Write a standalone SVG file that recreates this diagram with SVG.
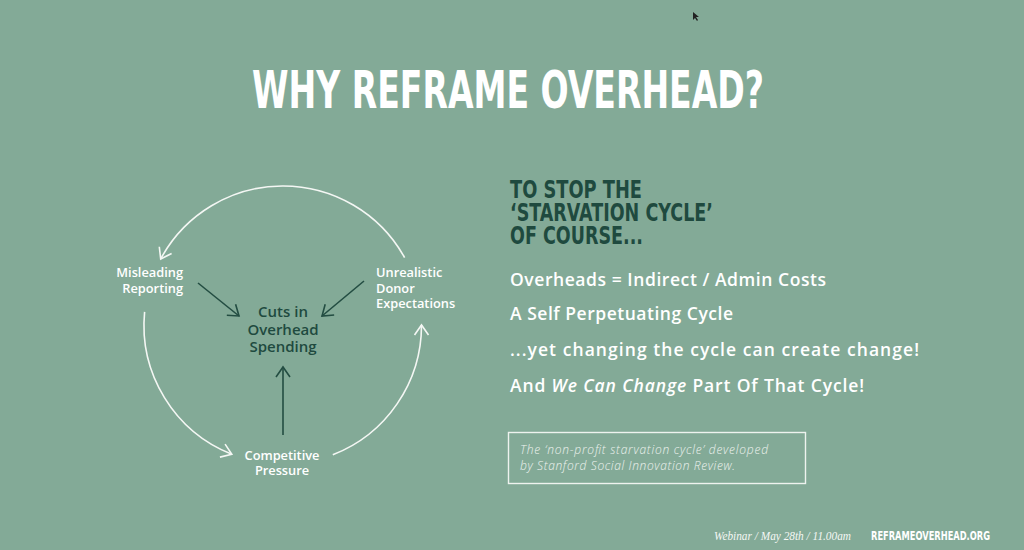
<svg xmlns="http://www.w3.org/2000/svg" width="1024" height="550" viewBox="0 0 1024 550">
<defs>
<style>
.bg{fill:#83aa97}
.title{font-family:"DejaVu Sans Condensed","DejaVu Sans",sans-serif;font-weight:bold;fill:#ffffff}
.head{font-family:"DejaVu Sans Condensed","DejaVu Sans",sans-serif;font-weight:bold;fill:#1f4a3f}
.bul{font-family:"Open Sans","Noto Sans",sans-serif;font-weight:600;font-size:17.5px;fill:#ffffff}
.lbl{font-family:"Open Sans","Noto Sans",sans-serif;font-weight:600;font-size:12.8px;fill:#ffffff}
.ctr{font-family:"Open Sans","Noto Sans",sans-serif;font-weight:600;font-size:15px;fill:#1f4a3f;text-anchor:middle}
.note{font-family:"Open Sans","Noto Sans",sans-serif;font-style:italic;font-weight:300;font-size:12px;fill:#eef3ef}
.wire{fill:none;stroke:#f4f7f4;stroke-width:1.6}
.dark{fill:none;stroke:#234d42;stroke-width:1.6}
</style>
<marker id="wh" viewBox="-12 -8 14 16" markerWidth="14" markerHeight="16" refX="0" refY="0" orient="auto" markerUnits="userSpaceOnUse">
<path d="M-10,-7 L0,0 L-10,7" fill="none" stroke="#f4f7f4" stroke-width="1.6"/>
</marker>
<marker id="dk" viewBox="-12 -8 14 16" markerWidth="14" markerHeight="16" refX="0" refY="0" orient="auto" markerUnits="userSpaceOnUse">
<path d="M-10,-7 L0,0 L-10,7" fill="none" stroke="#234d42" stroke-width="1.6"/>
</marker>
</defs>
<rect class="bg" x="0" y="0" width="1024" height="550"/>
<polygon points="693,12 693,20 695,18 697,21 698,20 696,17 699,17" fill="#222"/>
<text class="title" x="252" y="108" font-size="52" textLength="512" lengthAdjust="spacingAndGlyphs">WHY REFRAME OVERHEAD?</text>

<g id="connectors">
<path class="wire" d="M404.6,257.6 A139,139 0 0 0 160.7,258.9" marker-end="url(#wh)"/>
<path class="wire" d="M144.6,311.9 A139,139 0 0 0 231.8,454.3" marker-end="url(#wh)"/>
<path class="wire" d="M332.8,454.8 A139,139 0 0 0 421.5,325" marker-end="url(#wh)"/>
<line class="dark" x1="198" y1="283" x2="239" y2="316" marker-end="url(#dk)"/>
<line class="dark" x1="364" y1="281" x2="322" y2="316" marker-end="url(#dk)"/>
<line class="dark" x1="283" y1="435" x2="283" y2="367" marker-end="url(#dk)"/>
</g>

<g id="node-cuts">
<text class="ctr" x="283" y="317">Cuts in</text>
<text class="ctr" x="283" y="335">Overhead</text>
<text class="ctr" x="283" y="352">Spending</text>
</g>
<g id="node-misleading">
<text class="lbl" x="183" y="277" text-anchor="end">Misleading</text>
<text class="lbl" x="183" y="293" text-anchor="end">Reporting</text>
</g>
<g id="node-unrealistic">
<text class="lbl" x="376" y="277">Unrealistic</text>
<text class="lbl" x="376" y="293">Donor</text>
<text class="lbl" x="376" y="308">Expectations</text>
</g>
<g id="node-competitive">
<text class="lbl" x="282" y="460" text-anchor="middle">Competitive</text>
<text class="lbl" x="282" y="475" text-anchor="middle">Pressure</text>
</g>

<g id="heading">
<text class="head" x="510" y="198" font-size="25.5" textLength="132" lengthAdjust="spacingAndGlyphs">TO STOP THE</text>
<text class="head" x="510" y="221" font-size="25.5" textLength="203" lengthAdjust="spacingAndGlyphs">‘STARVATION CYCLE’</text>
<text class="head" x="510" y="244" font-size="25.5" textLength="133" lengthAdjust="spacingAndGlyphs">OF COURSE...</text>
</g>
<g id="bullets">
<text class="bul" x="510" y="286" textLength="316">Overheads = Indirect / Admin Costs</text>
<text class="bul" x="510" y="320" textLength="223">A Self Perpetuating Cycle</text>
<text class="bul" x="510" y="356" textLength="409">...yet changing the cycle can create change!</text>
<text class="bul" x="510" y="392" textLength="354">And <tspan font-style="italic">We Can Change</tspan> Part Of That Cycle!</text>
</g>
<g id="note">
<rect x="508.5" y="432.5" width="297" height="51" fill="none" stroke="#eef3ef" stroke-width="1.4"/>
<text class="note" x="520" y="454" textLength="248">The ‘non-profit starvation cycle’ developed</text>
<text class="note" x="520" y="470" textLength="215">by Stanford Social Innovation Review.</text>
</g>
<g id="footer">
<text x="714" y="540" font-family="'Liberation Serif',serif" font-style="italic" font-size="13" fill="#f4f7f4" textLength="137" lengthAdjust="spacingAndGlyphs">Webinar / May 28th / 11.00am</text>
<text x="871" y="540" font-family="'DejaVu Sans Condensed','DejaVu Sans',sans-serif" font-weight="bold" font-size="11.5" fill="#ffffff" textLength="119" lengthAdjust="spacingAndGlyphs">REFRAMEOVERHEAD.ORG</text>
</g>
</svg>
